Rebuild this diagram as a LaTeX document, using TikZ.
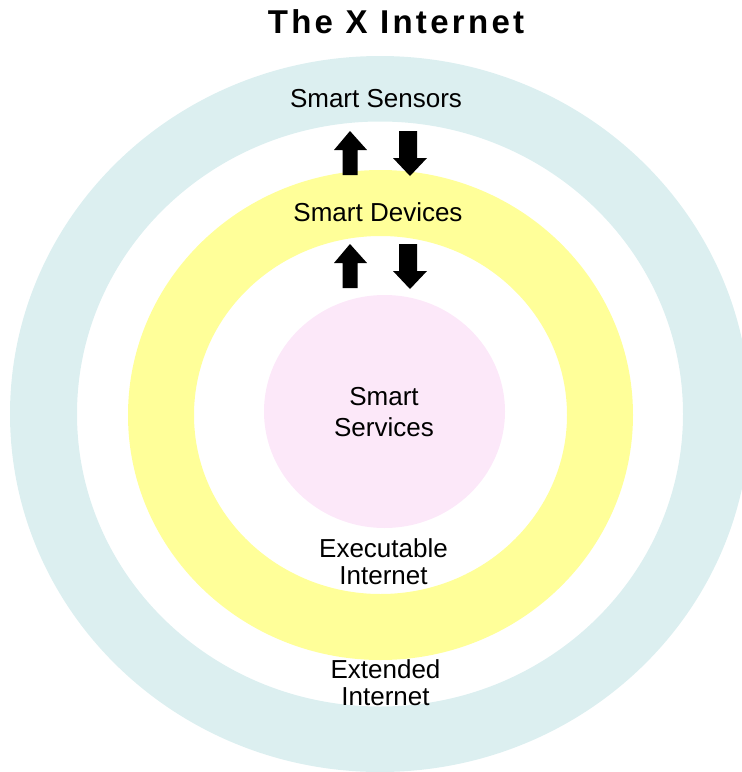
\documentclass[tikz,border=0pt]{standalone}
\usepackage{fontspec}
\setmainfont{Liberation Sans}
\definecolor{ringblue}{HTML}{DCEFF0}
\definecolor{ringyellow}{HTML}{FFFF99}
\definecolor{corepink}{HTML}{FCE8F9}

\begin{document}
\begin{tikzpicture}[x=1pt, y=-1pt, lbl/.style={align=center, inner sep=0pt, font=\fontsize{26}{27}\selectfont}]
		\useasboundingbox (0,0) rectangle (742,772);
		\clip (0,0) rectangle (742,772);
		
		\fill[ringblue, even odd rule] (380,414) ellipse [x radius=370, y radius=358] (380,414) ellipse [x radius=303, y radius=292.5];
		\fill[ringyellow, even odd rule] (380.5,415) ellipse [x radius=252.5, y radius=245] (380.5,415) ellipse [x radius=186.5, y radius=179];
		\fill[corepink] (384.5,411.5) ellipse [x radius=120.5, y radius=116.5];
		
		\foreach \dy in {0,113}{
			\fill[shift={(0,\dy)}] (350,131) -- (367,150) -- (357.5,150) -- (357.5,175) -- (342.5,175) -- (342.5,150) -- (334,150) -- cycle;
			\fill[shift={(0,\dy)}] (399,131) -- (417,131) -- (417,158) -- (427,158) -- (410,176) -- (393,158) -- (399,158) -- cycle;
		}
		
		\node[font=\fontsize{33}{36}\selectfont\bfseries\addfontfeature{LetterSpace=10}, anchor=base, inner sep=0pt] (title) at (396,33) {The X Internet};
		\node[lbl, anchor=base] (sensors) at (376,107) {Smart Sensors};
		\node[lbl, anchor=base] (devices) at (378,221) {Smart Devices};
		\node[lbl, font=\fontsize{26}{31}\selectfont] (services) at (384,412) {Smart\\Services};
		\node[lbl] (executable) at (383.5,561.5) {Executable\\Internet};
		\node[lbl] (extended) at (385.5,683) {Extended\\Internet};
		
\end{tikzpicture}
\end{document}
